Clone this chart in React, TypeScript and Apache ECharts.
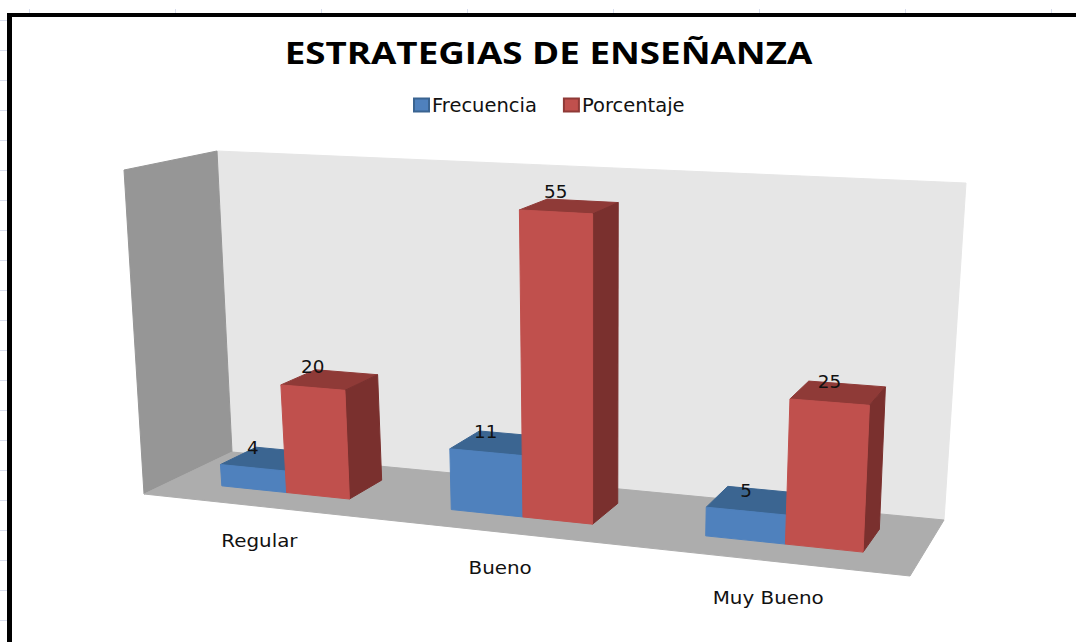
import React, { useEffect, useRef } from "react";
import * as echarts from "echarts";

const TITLE = "ESTRATEGIAS DE ENSEÑANZA";
const categories = ["Regular", "Bueno", "Muy Bueno"];
const frecuencia = [4, 11, 5];
const porcentaje = [20, 55, 25];
const VALUE_MAX = 60;

type Pt = [number, number];
// Corners of the chart box on screen, order: front-left, front-right, back-right, back-left
const FLOOR: Pt[] = [[144, 494], [910, 576], [944, 520], [232, 452]];
// Offset from each floor corner to the corner above it, at the top of the value axis
const RISE: Pt[] = [[-20, -324], [24, -363], [22, -337], [-15, -301]];
const GROUP_SHIFT = 0.008;
const BLUE_WIDTH = 0.0975;
const RED_WIDTH = 0.092;
const DEPTH_FRONT = 0.3;
const DEPTH_BACK = 0.72;
const BAR_LEAN = 5;

function quad(q: Pt[], u: number, d: number): Pt {
  const [[x0, y0], [x1, y1], [x2, y2], [x3, y3]] = q;
  const sx = x0 - x1 + x2 - x3, sy = y0 - y1 + y2 - y3;
  const dx1 = x1 - x2, dx2 = x3 - x2, dy1 = y1 - y2, dy2 = y3 - y2;
  const den = dx1 * dy2 - dx2 * dy1;
  const g = (sx * dy2 - dx2 * sy) / den;
  const h = (dx1 * sy - sx * dy1) / den;
  const w = 1 + g * u + h * d;
  return [
    (x0 + (x1 - x0 + g * x1) * u + (x3 - x0 + h * x3) * d) / w,
    (y0 + (y1 - y0 + g * y1) * u + (y3 - y0 + h * y3) * d) / w,
  ];
}
function project(u: number, d: number, t: number): Pt {
  const a = quad(FLOOR, u, d);
  const L = quad(FLOOR, 0, d), R = quad(FLOOR, 1, d);
  const s = (a[0] - L[0]) / (R[0] - L[0]);
  const mix = (k: 0 | 1) =>
    (1 - d) * ((1 - s) * RISE[0][k] + s * RISE[1][k]) + d * ((1 - s) * RISE[3][k] + s * RISE[2][k]);
  return [a[0] + mix(0) * t, a[1] + mix(1) * t];
}
const projectBar = (u: number, d: number, t: number): Pt => {
  const p = project(u, d, t);
  return [p[0] - BAR_LEAN * t, p[1]];
};
const poly = (points: Pt[], fill: string, stroke?: string) => ({
  type: "polygon",
  shape: { points },
  style: { fill, stroke: stroke || fill, lineWidth: 1 },
});

const barRenderer = (side01: number, width: number, front: string, top: string, side: string, withCategory: boolean) =>
  (params: any, api: any) => {
    const cs = params.coordSys;
    const idx = api.value(0);
    const val = api.value(1);
    const c = api.coord([idx, val]);
    const centre = (c[0] - cs.x) / cs.width;
    const t = (cs.y + cs.height - c[1]) / cs.height;
    const u0 = centre + GROUP_SHIFT + side01 * width;
    const u1 = u0 + width;
    const [f, b] = [DEPTH_FRONT, DEPTH_BACK];
    const labelAt = projectBar((u0 + u1) / 2, f, t);
    const children: any[] = [
      poly([projectBar(u0, f, t), projectBar(u1, f, t), projectBar(u1, b, t), projectBar(u0, b, t)], top),
      poly([projectBar(u1, f, 0), projectBar(u1, b, 0), projectBar(u1, b, t), projectBar(u1, f, t)], side),
      poly([projectBar(u0, f, 0), projectBar(u1, f, 0), projectBar(u1, f, t), projectBar(u0, f, t)], front),
      {
        type: "text", x: labelAt[0], y: labelAt[1] - 20, scaleX: 1.08,
        style: { text: String(val), fontFamily: "DejaVu Sans", fontSize: 17, fill: "#111", align: "center", verticalAlign: "middle" },
      },
    ];
    if (withCategory) {
      const p = project(centre, 0, 0);
      children.push({
        type: "text", x: p[0] + 4, y: p[1] + 34 + 4 * centre, scaleX: 1.17,
        style: { text: categories[idx], fontFamily: "DejaVu Sans", fontSize: 17, fill: "#111", align: "center", verticalAlign: "middle" },
      });
    }
    return { type: "group", children };
  };

const wallRenderer = () => ({
  type: "group",
  children: [
    poly([project(0, 1, 0), project(1, 1, 0), project(1, 1, 1), project(0, 1, 1)], "#E6E6E6"),
    poly([project(0, 0, 0), project(0, 1, 0), project(0, 1, 1), project(0, 0, 1)], "#969696"),
    poly([project(0, 0, 0), project(1, 0, 0), project(1, 1, 0), project(0, 1, 0)], "#ADADAD"),
  ],
});

const TOP_TICKS = [29, 175, 321, 467, 613, 759, 905, 1051];
const LEFT_TICKS = Array.from({ length: 21 }, (_, i) => 20 + i * 30);

export default function App() {
  const ref = useRef<HTMLDivElement>(null);
  useEffect(() => {
    document.body.style.margin = "0";
    const chart = echarts.init(ref.current!, null, { renderer: "svg" });
    chart.setOption({
      animation: false,
      backgroundColor: "#fff",
      legend: {
        data: ["Frecuencia", "Porcentaje"], left: 413, top: 95, padding: 0, itemWidth: 15, itemHeight: 13, itemGap: 26,
        icon: "rect",
        textStyle: { fontFamily: "DejaVu Sans", fontSize: 19.5, color: "#111", padding: [0, 0, 0, -2] },
      },
      grid: { left: 100, right: 100, top: 150, bottom: 100 },
      xAxis: { type: "category", data: categories, show: false },
      yAxis: { type: "value", min: 0, max: VALUE_MAX, show: false },
      graphic: [
        { type: "rect", shape: { x: 7, y: 13, width: 1069, height: 4 }, style: { fill: "#000" } },
        { type: "rect", shape: { x: 7, y: 13, width: 5, height: 629 }, style: { fill: "#000" } },
        ...TOP_TICKS.map((x) => ({ type: "rect", shape: { x, y: 9, width: 1, height: 4 }, style: { fill: "#D9DEEE" } })),
        ...LEFT_TICKS.map((y) => ({ type: "rect", shape: { x: 0, y, width: 7, height: 1 }, style: { fill: "#D9DEEE" } })),
        {
          type: "text", x: 548.5, y: 52.5, scaleX: 1.225,
          style: { text: TITLE, fontFamily: "Open Sans", fontWeight: 700, fontSize: 30, fill: "#000", align: "center", verticalAlign: "middle" },
        },
      ],
      series: [
        { type: "custom", silent: true, renderItem: wallRenderer, data: [[categories[0], 0]], encode: { x: 0, y: 1 }, z: 1 },
        {
          type: "custom", name: "Frecuencia", itemStyle: { color: "#4F81BD", borderColor: "#3A6491", borderWidth: 1 }, z: 2,
          renderItem: barRenderer(-1, BLUE_WIDTH, "#4F81BD", "#3B6591", "#2F5175", true),
          data: categories.map((c, i) => [c, frecuencia[i]]), encode: { x: 0, y: 1 },
        },
        {
          type: "custom", name: "Porcentaje", itemStyle: { color: "#C0504D", borderColor: "#8F3A37", borderWidth: 1 }, z: 3,
          renderItem: barRenderer(0, RED_WIDTH, "#C0504D", "#8F3A37", "#7A302E", false),
          data: categories.map((c, i) => [c, porcentaje[i]]), encode: { x: 0, y: 1 },
        },
      ],
    });
    return () => chart.dispose();
  }, []);
  return <div ref={ref} style={{ width: 1076, height: 642 }} />;
}
